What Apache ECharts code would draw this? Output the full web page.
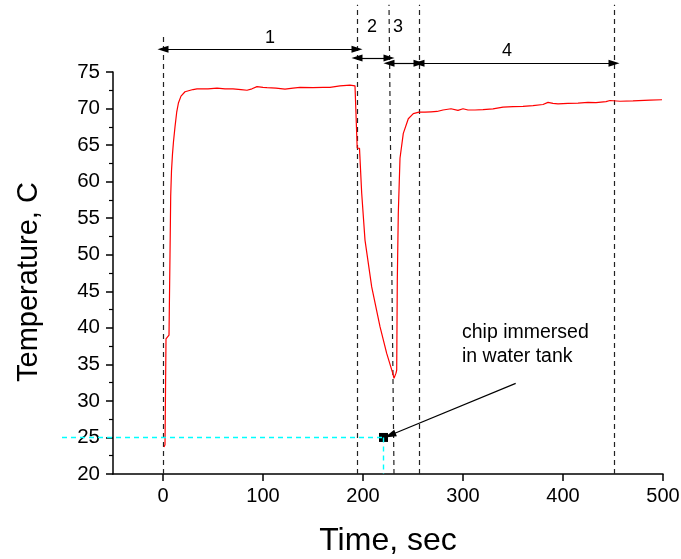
<!DOCTYPE html>
<html><head><meta charset="utf-8">
<script src="https://cdn.jsdelivr.net/npm/echarts@6/dist/echarts.min.js"></script>
<style>html,body{margin:0;padding:0;background:#fff}#c{width:681px;height:559px}</style>
</head><body><div id="c"></div>
<script>
// ---- measured curve ----
const timeSec = [1, 2, 3, 6, 7, 7.7, 8.5, 9.5, 10.5, 12, 13.7, 15.5, 18, 22, 30, 34, 45, 54, 62, 70, 78, 84, 89, 94, 100, 104, 113, 122, 130, 137, 150, 160, 167, 177, 187, 192, 193.7,
  194.2, 196.5, 198.7, 202, 208.7, 217, 223.7, 229.7, 231, 233, 233.7, 234.3, 235.3, 237, 240.3, 245.3, 250.3,
  256, 262, 268, 274, 280, 288, 295, 300, 305, 312, 320, 330, 340, 350, 360, 370, 380, 385, 390, 395, 405, 415, 425, 433, 443, 447, 457, 470, 487, 499];
const tempC = [23.7, 24.0, 38.5, 39.0, 50.0, 58.0, 61.5, 63.8, 65.5, 67.5, 69.5, 70.8, 71.7, 72.3, 72.6, 72.7, 72.7, 72.8, 72.7, 72.7, 72.6, 72.5, 72.7, 73.0, 72.9, 72.85, 72.8, 72.65, 72.8, 72.9, 72.85, 72.9, 72.9, 73.1, 73.2, 73.1, 73.0,
  64.6, 64.55, 58.4, 52.0, 45.6, 40.15, 36.5, 33.8, 33.1, 33.8, 34.2, 46.5, 55.7, 63.2, 66.6, 68.6, 69.3,
  69.5, 69.5, 69.55, 69.6, 69.8, 69.97, 69.75, 69.97, 69.8, 69.8, 69.85, 69.95, 70.2, 70.25, 70.3, 70.4, 70.55, 70.85, 70.7, 70.65, 70.7, 70.75, 70.85, 70.8, 70.95, 71.1, 71.0, 71.05, 71.15, 71.2];

// ---- axes ----
const xTickValues = [0, 100, 200, 300, 400, 500];
const xMin = -50, xMax = 500;
const yMin = 20, yMax = 75, yStep = 5;

// ---- phase annotations ----
const phaseNames = ['1', '2', '3', '4'];
const phaseLabelTime = [107, 209, 235, 344];
const phaseLabelTemp = [79.7, 81.2, 81.2, 77.9];
const phaseStart = [0, 194, 226, 256];
const phaseEnd = [194, 226, 256, 451];
const phaseArrowTemp = [78.1, 76.9, 76.2, 76.2];
const boundaryTimeTop = [0, 194, 226, 256, 451];
const boundaryTimeBottom = [0, 194, 231, 256, 451];
const boundaryTempTop = [80.3, 84.2, 84.2, 84.2, 84.2];

// ---- immersion note ----
const immersionTime = 220.5, immersionTemp = 25;
const cyanLeftTime = -101;
const noteText = 'chip immersed\nin water tank';
const noteTextPos = [299, 37.65];
const noteArrowFrom = [352.7, 32.4];
const noteArrowTo = [227, 25.3];

const FONT = 'Liberation Sans, Arial, sans-serif';
const curve = timeSec.map((t, i) => [t, tempC[i]]);
const boundaries = boundaryTimeTop.map((t, i) => ({ coords: [[boundaryTimeBottom[i], yMin], [t, boundaryTempTop[i]]] }));
const arrows = phaseStart.map((s, i) => ({ coords: [[s, phaseArrowTemp[i]], [phaseEnd[i], phaseArrowTemp[i]]] }));
const phaseLbl = phaseNames.map((n, i) => ({ value: [phaseLabelTime[i], phaseLabelTemp[i]], name: n }));

const chart = echarts.init(document.getElementById('c'), null, { renderer: 'canvas' });
chart.setOption({
  animation: false,
  backgroundColor: '#fff',
  grid: { left: 113, right: 18, top: 72, bottom: 85, containLabel: false, outerBoundsMode: 'none' },
  xAxis: {
    type: 'value', min: xMin, max: xMax,
    name: 'Time, sec', nameLocation: 'middle', nameGap: 51,
    nameTextStyle: { fontFamily: FONT, fontSize: 32, color: '#000' },
    axisLine: { show: true, onZero: false, lineStyle: { color: '#000', width: 1.5 } },
    axisTick: { show: true, inside: false, length: 7, customValues: xTickValues, lineStyle: { color: '#000', width: 1.5 } },
    axisLabel: { customValues: xTickValues, fontFamily: FONT, fontSize: 20, color: '#000', margin: 12 },
    splitLine: { show: false }
  },
  yAxis: {
    type: 'value', min: yMin, max: yMax, interval: yStep,
    name: 'Temperature, C', nameLocation: 'middle', nameGap: 70,
    nameTextStyle: { fontFamily: FONT, fontSize: 29, color: '#000', padding: [0, 18, 0, 0] },
    axisLine: { show: true, onZero: false, lineStyle: { color: '#000', width: 1.5 } },
    axisTick: { show: true, inside: false, length: 7, lineStyle: { color: '#000', width: 1.5 } },
    minorTick: { show: true, splitNumber: 2, length: 4, lineStyle: { color: '#000', width: 1.2 } },
    axisLabel: { fontFamily: FONT, fontSize: 20.5, color: '#000', margin: 13 },
    splitLine: { show: false }
  },
  series: [
    {
      type: 'line', data: curve, symbol: 'none', clip: false, z: 5,
      lineStyle: { color: '#ff0000', width: 1.2 }
    },
    {
      type: 'lines', coordinateSystem: 'cartesian2d', clip: false, z: 3,
      data: boundaries, symbol: ['none', 'none'],
      lineStyle: { color: '#222', width: 1.2, type: [5, 4], opacity: 1 }
    },
    {
      type: 'lines', coordinateSystem: 'cartesian2d', clip: false, z: 4,
      data: arrows, symbol: ['triangle', 'triangle'], symbolSize: [[7, 11], [7, 11]],
      lineStyle: { color: '#000', width: 1.2, opacity: 1 }
    },
    {
      type: 'lines', coordinateSystem: 'cartesian2d', clip: false, z: 6,
      data: [
        { coords: [[cyanLeftTime, immersionTemp], [immersionTime, immersionTemp]] },
        { coords: [[immersionTime, immersionTemp], [immersionTime, yMin]] }
      ],
      symbol: ['none', 'none'],
      lineStyle: { color: '#00ffff', width: 1.4, type: [5, 4], opacity: 1 }
    },
    {
      type: 'lines', coordinateSystem: 'cartesian2d', clip: false, z: 6,
      data: [{ coords: [noteArrowFrom, noteArrowTo] }],
      symbol: ['none', 'triangle'], symbolSize: [[7, 12], [7, 12]],
      lineStyle: { color: '#000', width: 1.1, opacity: 1 }
    },
    {
      type: 'scatter', clip: false, z: 5, symbol: 'rect', symbolSize: 9,
      itemStyle: { color: '#000', opacity: 1 },
      data: [[immersionTime, immersionTemp]]
    },
    {
      type: 'scatter', clip: false, z: 7, symbolSize: 0,
      itemStyle: { opacity: 1 },
      data: phaseLbl,
      label: { show: true, position: 'inside', formatter: p => p.name, fontFamily: FONT, fontSize: 18, color: '#000', opacity: 1 }
    },
    {
      type: 'scatter', clip: false, z: 7, symbolSize: 0,
      itemStyle: { opacity: 1 },
      data: [{ value: noteTextPos, name: noteText }],
      label: { show: true, position: 'right', distance: 0, formatter: p => p.name, fontFamily: FONT, fontSize: 19.5, lineHeight: 24, color: '#000', align: 'left', opacity: 1 }
    }
  ]
});
</script>
</body></html>
